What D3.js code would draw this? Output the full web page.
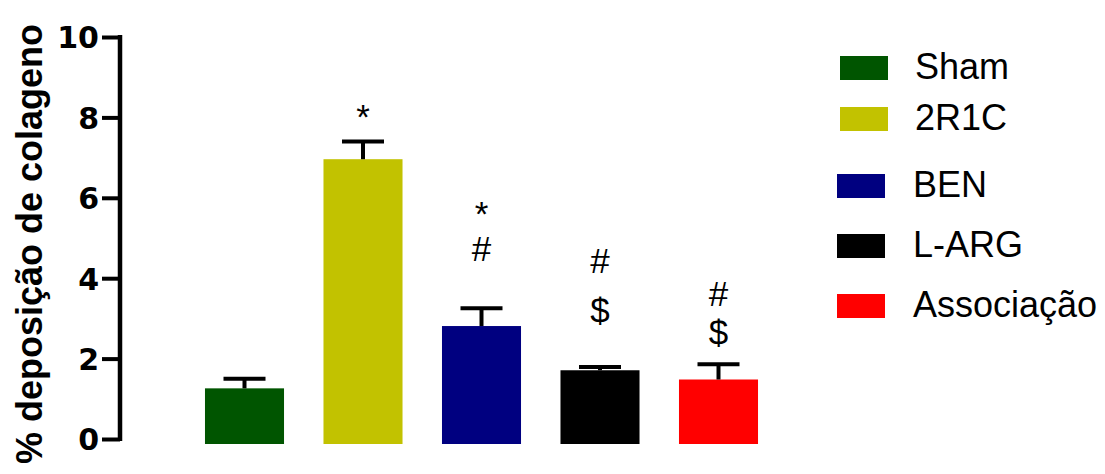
<!DOCTYPE html>
<html>
<head>
<meta charset="utf-8">
<script src="https://cdn.jsdelivr.net/npm/d3@7"></script>
<style>
  html, body { margin: 0; padding: 0; background: #fff; }
  svg { display: block; }
</style>
</head>
<body>
<svg id="chart" width="1105" height="474"></svg>
<script>
// Group names, means and SEM of collagen deposition (%)
const groups = ["Sham", "2R1C", "BEN", "L-ARG", "Associação"];
const means  = [1.26, 6.96, 2.81, 1.71, 1.48];
const sems   = [0.24, 0.44, 0.44, 0.08, 0.38];
const colors = ["#005500", "#c2c200", "#000080", "#000000", "#ff0000"];

// Significance marks above each bar (text, and the value level of its baseline)
const markText  = [[], ["*"], ["*", "#"], ["#", "$"], ["#", "$"]];
const markLevel = [[], [7.71], [5.30, 4.42], [4.14, 2.89], [3.32, 2.34]];

// Y axis ticks
const yTicks = [0, 2, 4, 6, 8, 10];

const svg = d3.select("#chart");

const x = d3.scaleBand()
  .domain(groups)
  .range([185.25, 777.75])
  .paddingInner(0.333)
  .paddingOuter(0.1665);

const y = d3.scaleLinear().domain([0, 10]).range([439, 37]);

// Y axis
const yAxis = d3.axisLeft(y)
  .tickValues(yTicks)
  .tickFormat(d3.format("d"))
  .tickSize(18)
  .tickSizeOuter(0)
  .tickPadding(3);

const gAxis = svg.append("g")
  .attr("transform", "translate(120,0)")
  .call(yAxis);

gAxis.select(".domain")
  .attr("stroke", "#000")
  .attr("stroke-width", 4.5)
  .attr("d", `M0,${y(10) - 2}V${y(0) + 2}`);
gAxis.selectAll(".tick line")
  .attr("stroke", "#000")
  .attr("stroke-width", 4);
gAxis.selectAll(".tick text")
  .attr("font-family", "'DejaVu Sans', sans-serif")
  .attr("font-weight", "bold")
  .attr("font-size", 30)
  .attr("fill", "#000")
  .attr("dy", "0.36em");

// Y axis title
svg.append("text")
  .attr("transform", `translate(42,${244}) rotate(-90)`)
  .attr("text-anchor", "middle")
  .attr("font-family", "'Liberation Sans', Arial, sans-serif")
  .attr("font-weight", "bold")
  .attr("font-size", 36)
  .attr("fill", "#000")
  .text("% deposição de colageno");

const data = groups.map((g, i) => ({
  g, mean: means[i], sem: sems[i], color: colors[i],
  marks: markText[i].map((t, j) => ({ t, level: markLevel[i][j] }))
}));

// Bars (the fill runs slightly past the baseline)
svg.append("g").selectAll("rect")
  .data(data)
  .join("rect")
  .attr("x", d => x(d.g))
  .attr("width", x.bandwidth())
  .attr("y", d => y(d.mean))
  .attr("height", d => y(0) - y(d.mean) + 5)
  .attr("fill", d => d.color);

// Upper error bars
const eb = svg.append("g").selectAll("g")
  .data(data)
  .join("g")
  .attr("stroke", "#000")
  .attr("stroke-width", 4);

eb.append("line")
  .attr("x1", d => x(d.g) + x.bandwidth() / 2)
  .attr("x2", d => x(d.g) + x.bandwidth() / 2)
  .attr("y1", d => y(d.mean))
  .attr("y2", d => y(d.mean + d.sem));

eb.append("line")
  .attr("x1", d => x(d.g) + x.bandwidth() / 2 - 21)
  .attr("x2", d => x(d.g) + x.bandwidth() / 2 + 21)
  .attr("y1", d => y(d.mean + d.sem))
  .attr("y2", d => y(d.mean + d.sem));

// Significance symbols
svg.append("g").selectAll("g")
  .data(data)
  .join("g")
  .selectAll("text")
  .data(d => d.marks.map(m => ({ ...m, g: d.g })))
  .join("text")
  .attr("x", d => x(d.g) + x.bandwidth() / 2)
  .attr("y", d => y(d.level))
  .attr("text-anchor", "middle")
  .attr("font-family", "'Liberation Sans', Arial, sans-serif")
  .attr("font-size", 35)
  .attr("fill", "#000")
  .text(d => d.t);

// Legend
const legendTop = [56, 107, 174, 234, 294];
const legendSwatchX = [840, 840, 837, 837, 837];
const legendTextX = [915, 915, 913, 913, 913];

const lg = svg.append("g").selectAll("g")
  .data(data)
  .join("g");

lg.append("rect")
  .attr("x", (d, i) => legendSwatchX[i])
  .attr("y", (d, i) => legendTop[i])
  .attr("width", 48)
  .attr("height", 24)
  .attr("fill", d => d.color);

lg.append("text")
  .attr("x", (d, i) => legendTextX[i])
  .attr("y", (d, i) => legendTop[i] + 23)
  .attr("font-family", "'Liberation Sans', Arial, sans-serif")
  .attr("font-size", 36)
  .attr("fill", "#000")
  .text(d => d.g);
</script>
</body>
</html>
